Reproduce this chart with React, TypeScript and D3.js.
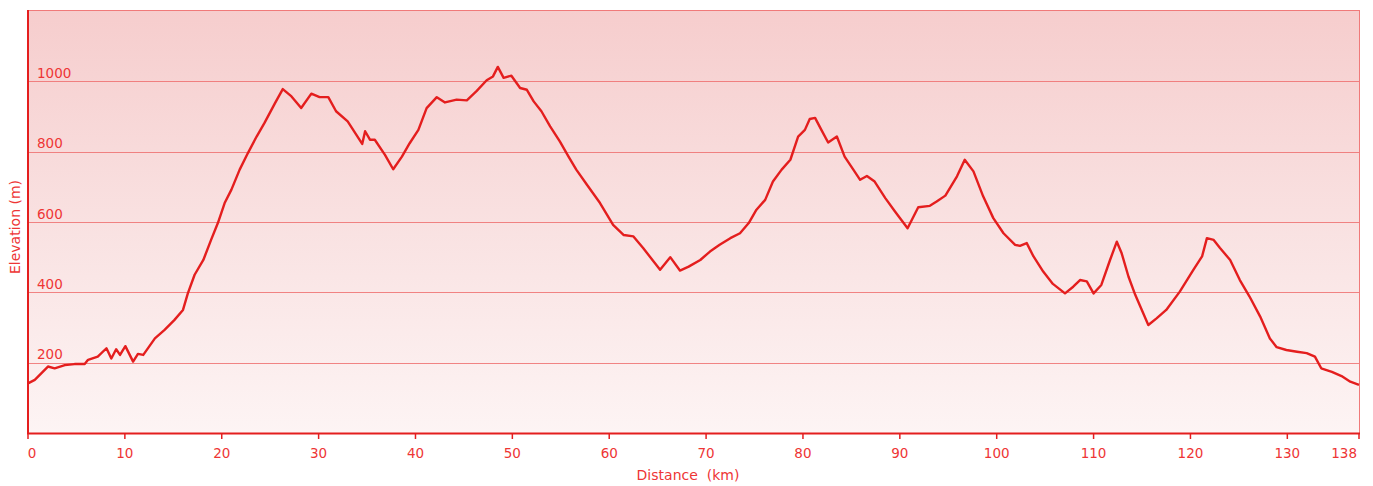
import React from "react";
import * as d3 from "d3";

const distances = [
  0, 0.7, 2.06, 2.75, 3.8, 4.8, 5.85, 6.2, 7.2, 8.1, 8.6, 9.1, 9.5, 10.05, 10.85, 11.35, 11.9,
  13.1, 14.1, 15.1, 16.0, 16.5, 17.2, 18.1, 18.9, 19.6, 20.3, 21.0, 21.85, 22.7, 23.6, 24.4,
  25.5, 26.3, 27.2, 28.2, 29.25, 30.1, 31.0, 31.8, 33.0, 33.9, 34.5, 34.8, 35.3, 35.8, 36.85,
  37.7, 38.6, 39.4, 40.3, 41.15, 42.2, 43.05, 44.25, 45.3, 46.3, 47.35, 48.0, 48.5, 49.1, 49.9,
  50.8, 51.5, 52.2, 53.0, 53.9, 54.9, 55.8, 56.6, 57.7, 59.05, 60.4, 61.5, 62.5, 63.5, 65.25,
  66.3, 67.3, 68.2, 69.4, 70.4, 71.4, 72.5, 73.5, 74.4, 75.2, 76.1, 76.9, 77.8, 78.7, 79.5,
  80.2, 80.7, 81.25, 81.9, 82.6, 83.5, 84.3, 85.2, 85.9, 86.6, 87.4, 88.5, 89.5, 90.8, 91.9,
  93.1, 93.8, 94.7, 95.9, 96.7, 97.6, 98.6, 99.65, 100.7, 101.9, 102.4, 103.1, 103.8, 104.8,
  105.8, 107.05, 107.9, 108.6, 109.3, 110.0, 110.8, 111.7, 112.4, 112.9, 113.6, 114.3, 115.65,
  116.5, 117.5, 118.9, 120.3, 121.2, 121.7, 122.4, 123.05, 124.1, 125.1, 126.1, 127.2, 128.2,
  128.9, 129.9, 131.0, 132.0, 132.85, 133.5, 134.6, 135.6, 136.5, 137.4,
];

const elevations = [
  141, 151, 189, 184, 193, 196, 196, 208, 217, 241, 212, 238, 222, 247, 203, 225, 222,
  269, 293, 321, 350, 397, 450, 492, 549, 597, 654, 692, 749, 796, 843, 881,
  938, 978, 957, 924, 965, 955, 955, 915, 886, 848, 822, 858, 834, 834, 791,
  750, 786, 824, 862, 924, 955, 940, 948, 946, 972, 1003, 1014, 1041, 1010, 1016,
  981, 976, 943, 915, 872, 829, 786, 749, 706, 654, 592, 563, 559, 526, 464,
  500, 462, 473, 492, 516, 535, 554, 568, 597, 635, 663, 715, 749, 777, 843,
  862, 893, 896, 862, 826, 843, 786, 749, 720, 731, 715, 668, 630, 582, 642,
  646, 658, 675, 730, 777, 744, 673, 611, 568, 535, 532, 540, 502, 459,
  424, 397, 416, 435, 431, 397, 421, 492, 544, 511, 445, 393, 307,
  326, 350, 402, 464, 502, 554, 549, 526, 492, 435, 388, 331, 269,
  244, 236, 231, 227, 217, 184, 174, 162, 146, 137,
];

const xTicks = [0, 10, 20, 30, 40, 50, 60, 70, 80, 90, 100, 110, 120, 130];
const totalDistance = 137.4;
const totalLabel = "138";
const yTicks = [200, 400, 600, 800, 1000];

const W = 1373;
const H = 486;
const left = 28;
const right = 1359;
const top = 10;
const bottom = 433;

const red = "#e41e1e";
const textRed = "#ee3535";
const fs = 13.5;

export default function App() {
  const x = d3.scaleLinear().domain([0, totalDistance]).range([left, right]);
  const y = d3.scaleLinear().domain([0, 1200]).range([bottom, top + 1]);
  const data = distances.map((d, i) => [d, elevations[i]] as [number, number]);
  const line = d3
    .line<[number, number]>()
    .x((d) => x(d[0]))
    .y((d) => y(d[1]));

  return (
    <svg
      width={W}
      height={H}
      style={{ position: "absolute", left: 0, top: 0, background: "#fff" }}
      fontFamily="'DejaVu Sans', Verdana, sans-serif"
    >
      <defs>
        <linearGradient id="bg" x1="0" y1="0" x2="0" y2="1">
          <stop offset="0%" stopColor="#f6cdcd" />
          <stop offset="50%" stopColor="#f9e1e1" />
          <stop offset="100%" stopColor="#fdf4f4" />
        </linearGradient>
      </defs>
      <rect x={left} y={top} width={right - left} height={bottom - top} fill="url(#bg)" />
      <line x1={left} x2={right} y1={top + 0.5} y2={top + 0.5} stroke="#f07a7a" strokeWidth={1} />
      <line x1={right + 0.5} x2={right + 0.5} y1={top} y2={bottom} stroke="#f07a7a" strokeWidth={1} />
      {yTicks.map((t) => (
        <g key={t}>
          <line
            x1={left}
            x2={right}
            y1={Math.round(y(t)) + 0.5}
            y2={Math.round(y(t)) + 0.5}
            stroke="#ee7070"
            strokeOpacity={0.85}
            strokeWidth={1.2}
          />
          <text x={37} y={y(t) - 3.5} fontSize={fs} fill={textRed}>
            {t}
          </text>
        </g>
      ))}
      <path d={line(data) || ""} fill="none" stroke={red} strokeWidth={2.4} strokeLinejoin="round" />
      <line x1={left} x2={left} y1={top} y2={bottom + 1} stroke={red} strokeWidth={2} />
      <line x1={left - 1} x2={right + 1} y1={bottom + 0.5} y2={bottom + 0.5} stroke={red} strokeWidth={2} />
      {xTicks.map((t) => (
        <g key={t}>
          <line x1={x(t)} x2={x(t)} y1={bottom} y2={bottom + 6} stroke={red} strokeWidth={1.5} />
          <text
            x={t === 0 ? x(t) + 4 : x(t)}
            y={458}
            fontSize={fs}
            fill={textRed}
            textAnchor="middle"
          >
            {t}
          </text>
        </g>
      ))}
      <line x1={x(totalDistance)} x2={x(totalDistance)} y1={bottom} y2={bottom + 6} stroke={red} strokeWidth={1.5} />
      <text x={x(totalDistance) - 2} y={458} fontSize={fs} fill={textRed} textAnchor="end">
        {totalLabel}
      </text>
      <text x={688} y={480} fontSize={14} fill={textRed} textAnchor="middle" xmlSpace="preserve">
        {"Distance  (km)"}
      </text>
      <text
        transform={`translate(20, 227) rotate(-90)`}
        fontSize={14}
        fill={textRed}
        textAnchor="middle"
      >
        Elevation (m)
      </text>
    </svg>
  );
}
